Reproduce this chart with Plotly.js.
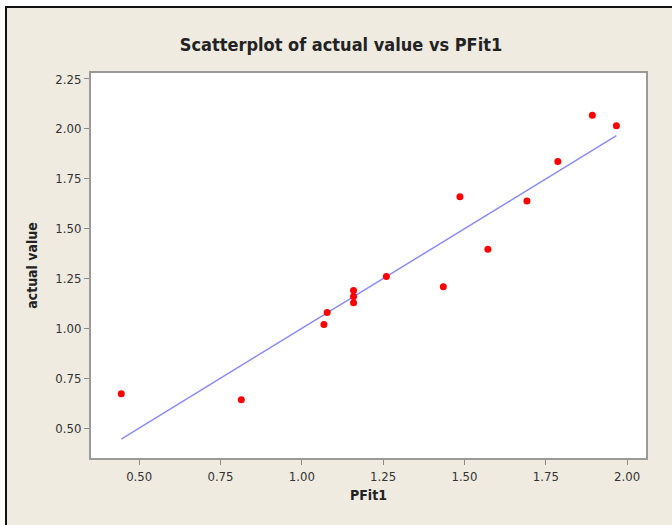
<!DOCTYPE html>
<html>
<head>
<meta charset="utf-8">
<script src="https://cdn.plot.ly/plotly-3.0.1.min.js"></script>
<style>
  html, body { margin: 0; padding: 0; background: #ffffff; }
  #wrap { position: relative; width: 672px; height: 525px; overflow: hidden; }
  #chart { position: absolute; left: 0; top: 0; width: 672px; height: 525px; }
  #frame { position: absolute; left: 0; top: 0; width: 672px; height: 525px; pointer-events: none;
           box-sizing: border-box; }
  .strip { position: absolute; background: #ffffff; }
  .bline { position: absolute; background: #111111; }
</style>
</head>
<body>
<div id="wrap">
  <div id="chart"></div>
  <div id="frame">
    <div class="strip" style="left:0;top:0;width:672px;height:6px;"></div>
    <div class="strip" style="left:0;top:0;width:5px;height:525px;"></div>
    <div class="bline" style="left:5px;top:6px;width:667px;height:2px;"></div>
    <div class="bline" style="left:5px;top:6px;width:2px;height:519px;"></div>
  </div>
</div>
<script>
// PFit1 (x) and actual value (y)
const pfit1 = [0.445, 0.814, 1.068, 1.078, 1.159, 1.159, 1.159, 1.260, 1.435, 1.486, 1.572, 1.692, 1.787, 1.893, 1.967];
const actualValue = [0.672, 0.642, 1.019, 1.080, 1.190, 1.160, 1.128, 1.260, 1.208, 1.660, 1.396, 1.638, 1.836, 2.068, 2.016];

// fitted line endpoints
const fitX = [0.445, 1.967];
const fitY = [0.445, 1.966];

const xTicks = [0.50, 0.75, 1.00, 1.25, 1.50, 1.75, 2.00];
const xTickText = ["0.50", "0.75", "1.00", "1.25", "1.50", "1.75", "2.00"];
const yTicks = [0.50, 0.75, 1.00, 1.25, 1.50, 1.75, 2.00, 2.25];
const yTickText = ["0.50", "0.75", "1.00", "1.25", "1.50", "1.75", "2.00", "2.25"];

const fam = "'DejaVu Sans Condensed', 'Liberation Sans Narrow', Arial, sans-serif";
const tickFont = { family: fam, size: 13, color: '#333333' };

const traces = [
  {
    x: fitX, y: fitY, type: 'scatter', mode: 'lines',
    line: { color: '#8c8cf7', width: 1.5 },
    hoverinfo: 'skip', showlegend: false
  },
  {
    x: pfit1, y: actualValue, type: 'scatter', mode: 'markers',
    marker: { color: '#ff0000', size: 7 },
    showlegend: false
  }
];

const layout = {
  width: 672, height: 525,
  paper_bgcolor: '#efebe1',
  plot_bgcolor: '#ffffff',
  margin: { l: 91, r: 26, t: 73, b: 67 },
  showlegend: false,
  title: {
    text: '<b>Scatterplot of actual value vs PFit1</b>',
    font: { family: fam, size: 18, color: '#222222' },
    x: 341/672, xref: 'container', xanchor: 'center',
    y: 1 - 45/525, yanchor: 'middle'
  },
  xaxis: {
    range: [0.352, 2.058],
    tickvals: xTicks, ticktext: xTickText,
    ticks: 'outside', ticklen: 5, tickwidth: 1, tickcolor: '#8a8a8a',
    showgrid: false, zeroline: false,
    showline: true, linecolor: '#9a9a9a', linewidth: 2, mirror: true,
    tickfont: tickFont,
    title: { text: '<b>PFit1</b>', font: { family: fam, size: 14, color: '#222222' }, standoff: 8 }
  },
  yaxis: {
    range: [0.35, 2.28],
    tickvals: yTicks, ticktext: yTickText,
    ticks: 'outside', ticklen: 5, tickwidth: 1, tickcolor: '#8a8a8a',
    showgrid: false, zeroline: false,
    showline: true, linecolor: '#9a9a9a', linewidth: 2, mirror: true,
    tickfont: tickFont,
    title: { text: '<b>actual value</b>', font: { family: fam, size: 14, color: '#222222' }, standoff: 14 }
  }
};

Plotly.newPlot('chart', traces, layout, { displayModeBar: false, staticPlot: true });
</script>
</body>
</html>
